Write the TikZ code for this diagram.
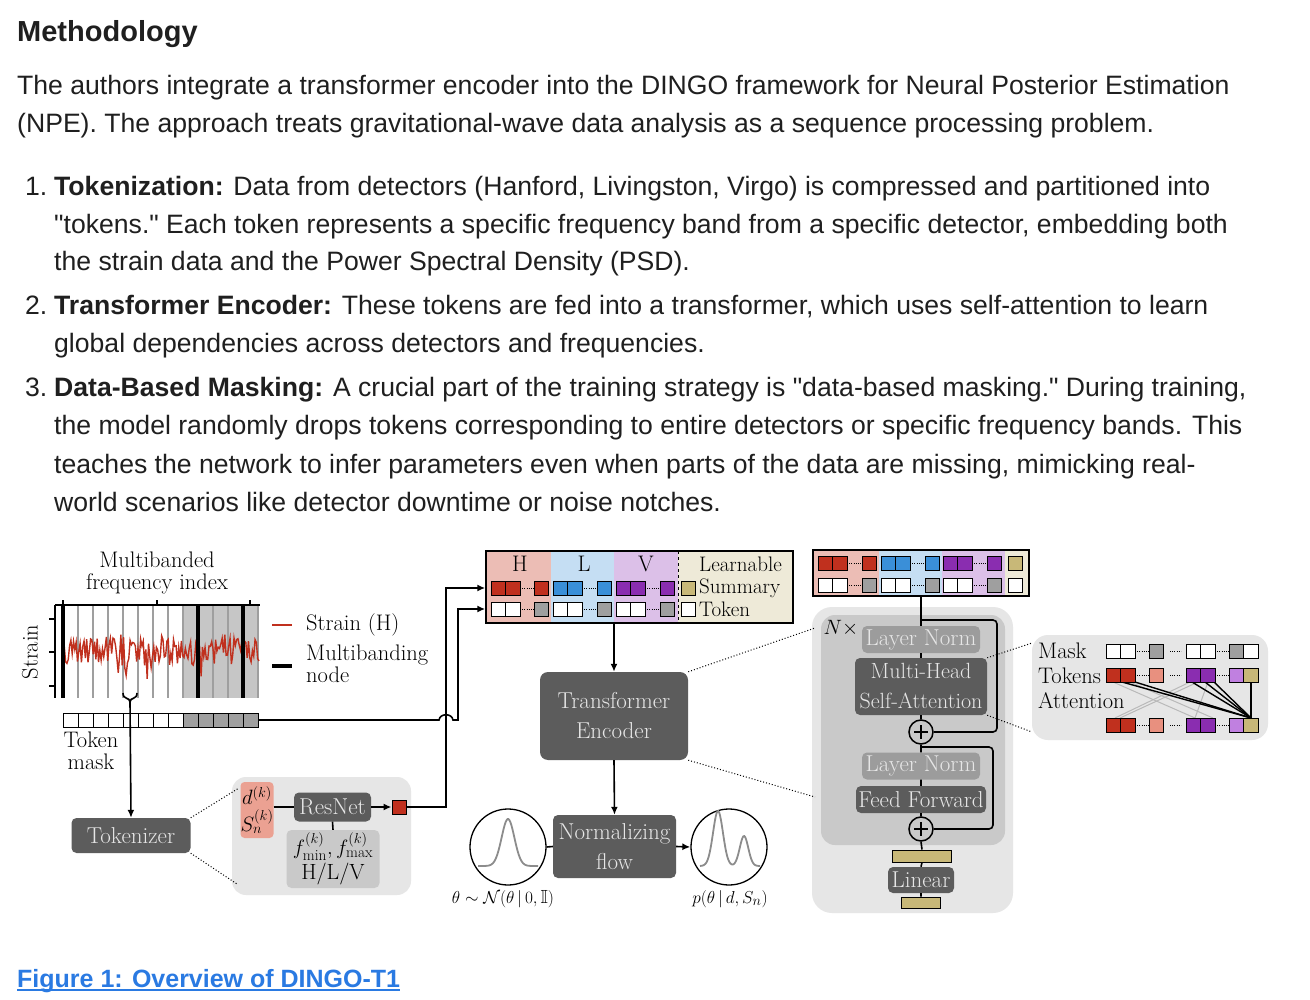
\documentclass[tikz,border=0pt]{standalone}
\usepackage{fontspec}
\usepackage{amssymb}
\newfontfamily\bodyfont{Liberation Sans}
\usetikzlibrary{arrows.meta}
\definecolor{tred}{HTML}{C0301E}
\definecolor{tblue}{HTML}{3A8FD8}
\definecolor{tpur}{HTML}{8A2DB0}
\definecolor{tbeige}{HTML}{C8B878}
\definecolor{bgH}{HTML}{ECBDB5}
\definecolor{bgL}{HTML}{C5DEF3}
\definecolor{bgV}{HTML}{DCC0E8}
\definecolor{bgB}{HTML}{EEEAD8}
\definecolor{tsal}{HTML}{E8907F}
\definecolor{tlp}{HTML}{C080E0}
\definecolor{dkg}{HTML}{5C5C5C}
\definecolor{lng}{HTML}{9C9C9C}
\definecolor{pan}{HTML}{E6E6E6}
\definecolor{pan2}{HTML}{C9C9C9}
\definecolor{txtl}{HTML}{E6E6E6}
\definecolor{body}{HTML}{1F1F1F}
\definecolor{link}{HTML}{2A7AE2}
\definecolor{cgray}{HTML}{8C8C8C}
\newcommand\tcell[3]{\draw[line width=1pt,fill=#3] (#1,#2-7) rectangle ++(14.5,14);}
\newcommand\tdots[3]{\draw[line width=1pt,dash pattern=on 1pt off 1.2pt] (#1,#3) -- (#2,#3);}
\begin{document}
\begin{tikzpicture}[x=1pt,y=-1pt,
  bt/.style={anchor=base west,font=\bodyfont\fontsize{26.6}{28}\selectfont,text=body,inner sep=0},
  ft/.style={font=\fontsize{22.5}{24}\selectfont,inner sep=0,align=center},
  dk/.style={fill=dkg,rounded corners=5pt,text=txtl,font=\fontsize{23}{30}\selectfont,align=center,inner sep=0},
  ln/.style={dk,fill=lng},
  con/.style={line width=1.6pt},
  arr/.style={con,-{Latex[length=8pt,width=7pt]}},
  dots/.style={dotted,line width=1pt},
]
\useasboundingbox (0,0) rectangle (1310,1000);
\fill[white] (0,0) rectangle (1310,1000);
% ---------------- text ----------------
\node[bt,font=\bodyfont\bfseries\fontsize{29}{30}\selectfont] (title) at (17,42) {Methodology};
\node[bt] (p1) at (17,95) {The authors integrate a transformer encoder into the DINGO framework for Neural Posterior Estimation};
\node[bt] (p2) at (17,133) {(NPE). The approach treats gravitational-wave data analysis as a sequence processing problem.};
\node[bt] (n1) at (25,196) {1.};
\node[bt] (l1a) at (54,196) {\textbf{Tokenization:} Data from detectors (Hanford, Livingston, Virgo) is compressed and partitioned into};
\node[bt] (l1b) at (54,234) {"tokens." Each token represents a specific frequency band from a specific detector, embedding both};
\node[bt] (l1c) at (54,271) {the strain data and the Power Spectral Density (PSD).};
\node[bt] (n2) at (25,315) {2.};
\node[bt] (l2a) at (54,315) {\textbf{Transformer Encoder:} These tokens are fed into a transformer, which uses self-attention to learn};
\node[bt] (l2b) at (54,353) {global dependencies across detectors and frequencies.};
\node[bt] (n3) at (25,397) {3.};
\node[bt] (l3a) at (54,397) {\textbf{Data-Based Masking:} A crucial part of the training strategy is "data-based masking." During training,};
\node[bt] (l3b) at (54,435) {the model randomly drops tokens corresponding to entire detectors or specific frequency bands. This};
\node[bt] (l3c) at (54,473) {teaches the network to infer parameters even when parts of the data are missing, mimicking real-};
\node[bt] (l3d) at (54,511) {world scenarios like detector downtime or noise notches.};
\node[bt,text=link,font=\bodyfont\bfseries\fontsize{25}{28}\selectfont] (cap) at (17,987) {Figure 1: Overview of DINGO-T1};
\draw[link,line width=1.4pt] ([yshift=-3pt]cap.base west) -- ([yshift=-3pt]cap.base east);
% ---------------- strain plot ----------------
\fill[gray!45] (183,605) rectangle (259,698);
\foreach \x in {78,93,...,258}{\draw[gray!75,line width=1.8pt] (\x,605) -- (\x,698);}
\pgfmathsetseed{11}
\draw[tred,line width=1.4pt] plot[domain=63:259,samples=150] (\x,{652+14*rand+28*rand*(abs(rand)>0.75)});
\foreach \x in {63,198,243}{\draw[black,line width=3.2pt] (\x,605) -- (\x,698);}
\draw[line width=1.2pt] (55,605) -- (55,698) (55,605) -- (260,605);
\foreach \x in {63,157,250}{\draw[line width=1.2pt] (\x,605) -- (\x,600);}
\foreach \y in {619,652,686}{\draw[line width=1.2pt] (55,\y) -- (49,\y);}
\node[ft] (mfi) at (157,573) {Multibanded\\[-2pt]frequency index};
\node[ft,rotate=90] (strl) at (30,652) {Strain};
\draw[tred,line width=1.4pt] (272,625) -- (292,625);
\draw[black,line width=3.5pt] (272,666) -- (292,666);
\node[ft,anchor=west] (sH) at (306,625) {Strain (H)};
\node[ft,anchor=west,align=left] (mbn) at (306,664) {Multibanding\\[-2pt]node};
% token mask
\foreach \x in {63,78,...,168}{\draw[line width=1pt,fill=white] (\x,713) rectangle ++(15,14);}
\foreach \x in {183,198,...,243}{\draw[line width=1pt,fill=gray!75] (\x,713) rectangle ++(15,14);}
\node[ft] (tm) at (91,751) {Token\\[-2pt]mask};
% brace + arrow to tokenizer
\coordinate (br) at (130,702);
\draw[con] (123,693) .. controls (123,700) and (130,697) .. (br) .. controls (130,697) and (137,700) .. (137,693);
\node[dk,minimum width=119pt,minimum height=35pt] (tok) at (131,835.5) {Tokenizer};
\draw[arr] (br) -- (tok.north);
% tokenizer panel
\fill[pan,rounded corners=14pt] (232,777) rectangle (411,895);
\draw[dots] (tok.north east) -- (239,788);
\draw[dots] (tok.south east) -- (237,884);
\node[fill=tsal!85,rounded corners=4pt,minimum width=33pt,minimum height=56pt,inner sep=0,align=center,font=\fontsize{20}{27}\selectfont] (ds) at (257,810) {$d^{(k)}$\\$S_n^{(k)}$};
\node[dk,minimum width=77pt,minimum height=29pt] (res) at (332.5,807) {ResNet};
\node[fill=pan2,rounded corners=5pt,minimum width=93pt,minimum height=58pt,inner sep=0,align=center,font=\fontsize{22}{25}\selectfont] (fm) at (333,859) {$f^{(k)}_{\min},f^{(k)}_{\max}$\\H/L/V};
\draw[con] (ds.east|-res) -- (res.west);
\draw[con] (res.south) -- (fm.north);
\node[draw,line width=1pt,fill=tred,minimum size=14pt,inner sep=0] (rsq) at (399,807) {};
\draw[arr] (res.east) -- (rsq.west);
% ---------------- HLV box ----------------
\fill[bgH] (486,551) rectangle (551,623);
\fill[bgL] (551,551) rectangle (614,623);
\fill[bgV] (614,551) rectangle (678,623);
\fill[bgB] (678,551) rectangle (793,623);
\draw[dashed,line width=0.8pt] (678,551) -- (678,623);
\node[draw,line width=1.5pt,minimum width=307pt,minimum height=72pt,inner sep=0] (hlv) at (639.5,587) {};
\node[ft] (hH) at (520,564) {H};
\node[ft] (hL) at (584,564) {L};
\node[ft] (hV) at (646,564) {V};
\node[ft,anchor=base west,font=\fontsize{21}{22}\selectfont] (lt1) at (699,571) {Learnable};
\node[ft,anchor=base west,font=\fontsize{21}{22}\selectfont] (lt2) at (699,593) {Summary};
\node[ft,anchor=base west,font=\fontsize{21}{22}\selectfont] (lt3) at (699,616) {Token};
\foreach \x/\c in {491/tred,505.5/tred,534/tred,553/tblue,567.5/tblue,597/tblue,616/tpur,630.5/tpur,660/tpur,681/tbeige}{\tcell{\x}{588}{\c}}
\foreach \x/\c in {491/white,505.5/white,534/gray!75,553/white,567.5/white,597/gray!75,616/white,630.5/white,660/gray!75,681/white}{\tcell{\x}{609}{\c}}
\foreach \a/\b in {520/534,582/597,645/660}{\tdots{\a}{\b}{588}\tdots{\a}{\b}{609}}
\coordinate (h1) at (hlv.west|-0,588);
\coordinate (h2) at (hlv.west|-0,609);
\draw[arr] (rsq.east) -- (446,807) -- (446,588) -- (h1);
\draw[arr] (258,720) -- (439,720) .. controls (440,713) and (452,713) .. (453,720) -- (458,720) -- (458,609) -- (h2);
% ---------------- encoder and flow ----------------
\node[dk,minimum width=148pt,minimum height=88pt,rounded corners=8pt] (te) at (614,716) {Transformer\\Encoder};
\node[dk,minimum width=123pt,minimum height=63pt] (nf) at (614.5,846.5) {Normalizing\\flow};
\draw[arr] (hlv.south-|te) -- (te.north);
\draw[arr] (te.south) -- (nf.north);
\node[draw,circle,line width=1.3pt,minimum size=76pt,inner sep=0] (c1) at (508,847) {};
\node[draw,circle,line width=1.3pt,minimum size=76pt,inner sep=0] (c2) at (729,847) {};
\draw[cgray,line width=1.8pt] plot[domain=478:538,samples=60] (\x,{866-47*exp(-((\x-508)/9)^2)});
\draw[cgray,line width=1.8pt] plot[domain=700:760,samples=70] (\x,{866-55*exp(-((\x-718)/7)^2)-30*exp(-((\x-744)/6)^2)});
\draw[con] (c1.east) -- (nf.west);
\draw[arr] (nf.east) -- (c2.west);
\node[ft,font=\fontsize{19}{22}\selectfont] (pr) at (503,899) {$\theta\sim\mathcal{N}(\theta\,|\,0,\mathbb{I})$};
\node[ft,font=\fontsize{19}{22}\selectfont] (po) at (730,899) {$p(\theta\,|\,d,S_n)$};
% ---------------- right token box ----------------
\fill[bgH] (813,550) rectangle (879,596);
\fill[bgL] (879,550) rectangle (942,596);
\fill[bgV] (942,550) rectangle (1005,596);
\fill[bgB] (1005,550) rectangle (1029,596);
\node[draw,line width=1.5pt,minimum width=216pt,minimum height=46pt,inner sep=0] (rtb) at (921,573) {};
\foreach \x/\c in {818/tred,832.5/tred,862/tred,881/tblue,895.5/tblue,925/tblue,943/tpur,957.5/tpur,987/tpur,1008/tbeige}{\tcell{\x}{563}{\c}}
\foreach \x/\c in {818/white,832.5/white,862/gray!75,881/white,895.5/white,925/gray!75,943/white,957.5/white,987/gray!75,1008/white}{\tcell{\x}{585}{\c}}
\foreach \a/\b in {847/862,910/925,972/987}{\tdots{\a}{\b}{563}\tdots{\a}{\b}{585}}
% ---------------- transformer panel ----------------
\fill[pan,rounded corners=20pt] (812,607) rectangle (1013,913);
\fill[pan2,rounded corners=14pt] (821,615) rectangle (1005,845);
\node[font=\fontsize{20}{22}\selectfont,inner sep=0] (nx) at (841,628) {$N\times$};
\node[ln,minimum width=118pt,minimum height=27pt] (ln1) at (921,639.5) {Layer Norm};
\node[dk,minimum width=132pt,minimum height=57pt,font=\fontsize{22}{30}\selectfont] (mh) at (921,686.5) {Multi-Head\\Self-Attention};
\node[draw,circle,line width=1.5pt,minimum size=24pt,inner sep=0,fill=pan2] (p1c) at (921,732) {};
\node[ln,minimum width=118pt,minimum height=27pt] (ln2) at (921,766) {Layer Norm};
\node[dk,minimum width=130pt,minimum height=27pt] (ff) at (921,799.5) {Feed Forward};
\node[draw,circle,line width=1.5pt,minimum size=24pt,inner sep=0,fill=pan2] (p2c) at (921,829) {};
\node[draw,line width=1pt,fill=tbeige,minimum width=59pt,minimum height=12pt,inner sep=0] (bz1) at (922,856) {};
\node[dk,minimum width=66pt,minimum height=26pt] (lin) at (921,880) {Linear};
\node[draw,line width=1pt,fill=tbeige,minimum width=39pt,minimum height=11pt,inner sep=0] (bz2) at (921,902.5) {};
\draw[con] (rtb.south) -- (ln1.north) (ln1.south) -- (mh.north) (mh.south) -- (p1c.north) (p1c.south) -- (ln2.north) (ln2.south) -- (ff.north) (ff.south) -- (p2c.north) (p2c.south) -- (bz1.north) (bz1.south) -- (lin.north) (lin.south) -- (bz2.north);
\draw[con,rounded corners=4pt] (921,620) -- (997,620) -- (997,732) -- (p1c.east);
\draw[con,rounded corners=4pt] (921,747) -- (993,747) -- (993,829) -- (p2c.east);
\draw[line width=1.1pt] (p1c.center)++(0,-7) -- ++(0,14) (p1c.center)++(-7,0) -- ++(14,0);
\draw[line width=1.1pt] (p2c.center)++(0,-7) -- ++(0,14) (p2c.center)++(-7,0) -- ++(14,0);
\draw[dots] (te.north east) -- (815,628);
\draw[dots] (te.south east) -- (815,797);
% ---------------- attention panel ----------------
\fill[pan,rounded corners=16pt] (1032,635) rectangle (1268,740);
\draw[dots] (mh.north east) -- (1032,643);
\draw[dots] (mh.south east) -- (1032,732);
\node[ft,anchor=west] (mk) at (1038,651) {Mask};
\node[ft,anchor=west] (tk) at (1038,676) {Tokens};
\node[ft,anchor=west] (at) at (1038,701) {Attention};
\foreach \a/\b in {1113/1195,1190/1115,1208/1195,1130/1213,1198/1120}{\draw[gray!55,line width=1pt] (\a,682) -- (\b,718);}
\foreach \a in {1122,1135,1192,1205,1214}{\draw[line width=1.4pt] (\a,682) -- (1251,718);}
\draw[line width=1.4pt] (1251,682) -- (1251,718);
\foreach \x/\c in {1106/white,1120.5/white,1149/gray!75,1186/white,1200.5/white,1229/gray!75,1243.5/white}{\tcell{\x}{651}{\c}}
\foreach \y in {675,725}{\foreach \x/\c in {1106/tred,1120.5/tred,1149/tsal,1186/tpur,1200.5/tpur,1229/tlp,1243.5/tbeige}{\tcell{\x}{\y}{\c}}}
\foreach \y in {651,675,725}{\tdots{1135}{1149}{\y}\tdots{1170}{1181}{\y}\tdots{1215}{1229}{\y}}
\end{tikzpicture}
\end{document}
